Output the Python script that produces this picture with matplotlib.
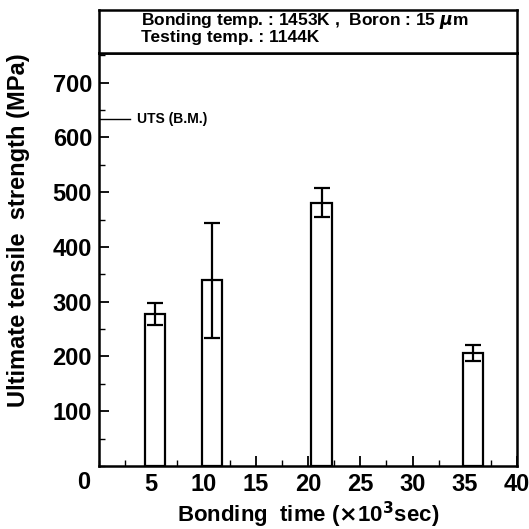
import matplotlib.pyplot as plt
from matplotlib.ticker import MultipleLocator

plt.rcParams['font.family'] = ['Liberation Sans', 'DejaVu Sans']
plt.rcParams['font.weight'] = 'bold'

# data
bond_time = [5.35, 10.8, 21.3, 35.8]     # x10^3 sec
uts = [278, 339, 480, 206]               # MPa
err_low = [257, 234, 454, 191]
err_high = [298, 444, 508, 220]
uts_bm = 633

yerr = [[v - lo for v, lo in zip(uts, err_low)],
        [hi - v for v, hi in zip(uts, err_high)]]

fig = plt.figure(figsize=(5.29, 5.29), dpi=100)
ax = fig.add_axes([99/529, 63/529, 418/529, 413/529])
hdr = fig.add_axes([99/529, 476/529, 418/529, 43/529])

ax.bar(bond_time, uts, width=1.95, facecolor='white', edgecolor='black',
       linewidth=1.6, zorder=2)
ax.errorbar(bond_time, uts, yerr=yerr, fmt='none', ecolor='black',
            elinewidth=1.6, capsize=6, capthick=1.6, zorder=3)

ax.plot([0, 3.0], [uts_bm, uts_bm], color='black', lw=1.0)
ax.text(3.6, uts_bm, 'UTS (B.M.)', fontsize=10, va='center', ha='left')

ax.set_xlim(0, 40)
ax.set_ylim(0, 754)
ax.xaxis.set_major_locator(MultipleLocator(5))
ax.xaxis.set_minor_locator(MultipleLocator(2.5))
ax.yaxis.set_major_locator(MultipleLocator(100))
ax.yaxis.set_minor_locator(MultipleLocator(50))
ax.set_yticks([100, 200, 300, 400, 500, 600, 700])
ax.set_xticks([5, 10, 15, 20, 25, 30, 35, 40])
ax.tick_params(which='major', direction='in', length=7, width=1.3,
               labelsize=17, top=False, right=False, pad=5)
ax.tick_params(which='minor', direction='in', length=4, width=1.0,
               top=False, right=False)
for lab in ax.get_xticklabels() + ax.get_yticklabels():
    lab.set_fontweight('bold')
ax.text(-0.02, -0.012, '0', transform=ax.transAxes, fontsize=17,
        fontweight='bold', ha='right', va='top')
for s in ax.spines.values():
    s.set_linewidth(1.8)

ax.set_xlabel('Bonding  time ($\\mathbf{\\times}$10$^{\\mathbf{3}}$sec)',
              fontsize=16, fontweight='bold', labelpad=3)
ax.set_ylabel('Ultimate tensile  strength (MPa)', fontsize=17,
              fontweight='bold')
ax.yaxis.set_label_coords(-0.165, 0.57)

hdr.set_xticks([])
hdr.set_yticks([])
for s in hdr.spines.values():
    s.set_linewidth(1.8)
hdr.text(0.10, 0.75, 'Bonding temp. : 1453K ,  Boron : 15 $\\mu$m',
         transform=hdr.transAxes, fontsize=12.5, fontweight='bold', va='center')
hdr.text(0.10, 0.35, 'Testing temp. : 1144K',
         transform=hdr.transAxes, fontsize=12.5, fontweight='bold', va='center')

fig.savefig('out.png', dpi=100)
